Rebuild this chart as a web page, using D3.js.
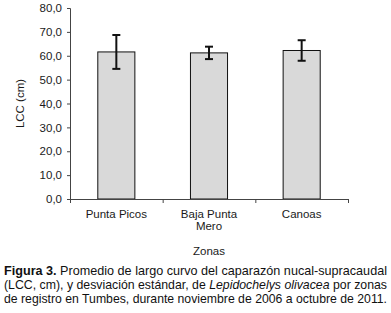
<!DOCTYPE html>
<html>
<head>
<meta charset="utf-8">
<script src="https://cdn.jsdelivr.net/npm/d3@7"></script>
<style>
  body { margin: 0; background: #fff; }
  svg { display: block; font-family: "Liberation Sans", Arial, sans-serif; }
</style>
</head>
<body>
<svg id="chart" width="391" height="313"></svg>
<script>
// zonas de registro
const zonas = ["Punta Picos", "Baja Punta Mero", "Canoas"];
const zonaLabels = [["Punta Picos"], ["Baja Punta", "Mero"], ["Canoas"]];
// promedio LCC (cm) y desviacion estandar
const medias = [61.6, 61.2, 62.2];
const desv = [7.1, 2.6, 4.3];
const yTicks = [0, 10, 20, 30, 40, 50, 60, 70, 80];

const svg = d3.select("#chart");
const mLeft = 70, mRight = 348, mTop = 8, mBottom = 199;

const x = d3.scaleBand()
    .domain(zonas)
    .range([mLeft, mRight])
    .paddingInner(0.6)
    .paddingOuter(0.3);

const y = d3.scaleLinear()
    .domain([0, 80])
    .range([mBottom, mTop]);

const fmt = d => d3.format(".1f")(d).replace(".", ",");

// y axis
const yAxis = svg.append("g")
    .attr("transform", `translate(${mLeft},0)`)
    .call(d3.axisLeft(y).tickValues(yTicks).tickSize(3).tickFormat(fmt));
yAxis.select(".domain").attr("stroke", "#444");
yAxis.selectAll(".tick line").attr("stroke", "#444");
yAxis.selectAll(".tick text")
    .attr("x", -8)
    .attr("fill", "#1a1a1a")
    .style("font-size", "11.5px");

// bars
svg.selectAll("rect.bar")
    .data(zonas)
    .enter()
    .append("rect")
    .attr("class", "bar")
    .attr("x", d => x(d))
    .attr("width", x.bandwidth())
    .attr("y", (d, i) => y(medias[i]))
    .attr("height", (d, i) => y(0) - y(medias[i]))
    .attr("fill", "#d9d9d9")
    .attr("stroke", "#111")
    .attr("stroke-width", 1);

// error bars
const err = svg.append("g").attr("stroke", "#111").attr("stroke-width", 2);
zonas.forEach((z, i) => {
    const cx = x(z) + x.bandwidth() / 2;
    const y1 = y(medias[i] + desv[i]);
    const y2 = y(medias[i] - desv[i]);
    err.append("line").attr("x1", cx).attr("x2", cx).attr("y1", y1).attr("y2", y2);
    err.append("line").attr("x1", cx - 4).attr("x2", cx + 4).attr("y1", y1).attr("y2", y1);
    err.append("line").attr("x1", cx - 4).attr("x2", cx + 4).attr("y1", y2).attr("y2", y2);
});

// x axis (ticks between categories)
const xPos = d3.scaleLinear().domain([0, zonas.length]).range([mLeft, mRight]);
const xAxis = svg.append("g")
    .attr("transform", `translate(0,${mBottom})`)
    .call(d3.axisBottom(xPos).tickValues(d3.range(zonas.length + 1)).tickSize(4).tickFormat(""));
xAxis.select(".domain").attr("stroke", "#444");
xAxis.selectAll(".tick line").attr("stroke", "#444");

zonas.forEach((z, i) => {
    const cx = x(z) + x.bandwidth() / 2;
    const t = svg.append("text")
        .attr("x", cx)
        .attr("y", 218)
        .attr("text-anchor", "middle")
        .attr("fill", "#1a1a1a")
        .style("font-size", "11.5px");
    zonaLabels[i].forEach((s, k) => {
        t.append("tspan").attr("x", cx).attr("dy", k === 0 ? 0 : 12).text(s);
    });
});

// axis titles
svg.append("text")
    .attr("x", (mLeft + mRight) / 2)
    .attr("y", 255)
    .attr("text-anchor", "middle")
    .attr("fill", "#1a1a1a")
    .style("font-size", "11.5px")
    .text("Zonas");

svg.append("text")
    .attr("transform", `translate(24,${(mTop + mBottom) / 2}) rotate(-90)`)
    .attr("text-anchor", "middle")
    .attr("fill", "#1a1a1a")
    .style("font-size", "11.5px")
    .text("LCC (cm)");

// caption
const cap = svg.append("g").attr("fill", "#111").style("font-size", "12.6px");
const l1 = cap.append("text").attr("x", 4).attr("y", 275).attr("textLength", 383).attr("lengthAdjust", "spacingAndGlyphs");
l1.append("tspan").attr("font-weight", "bold").text("Figura 3.");
l1.append("tspan").text(" Promedio de largo curvo del caparazón nucal-supracaudal");
const l2 = cap.append("text").attr("x", 4).attr("y", 289).attr("textLength", 383).attr("lengthAdjust", "spacingAndGlyphs");
l2.append("tspan").text("(LCC, cm), y desviación estándar, de ");
l2.append("tspan").attr("font-style", "italic").text("Lepidochelys olivacea");
l2.append("tspan").text(" por zonas");
cap.append("text").attr("x", 4).attr("y", 303).attr("textLength", 383).attr("lengthAdjust", "spacingAndGlyphs")
    .style("font-size", "12.2px")
    .text("de registro en Tumbes, durante noviembre de 2006 a octubre de 2011.");
</script>
</body>
</html>
